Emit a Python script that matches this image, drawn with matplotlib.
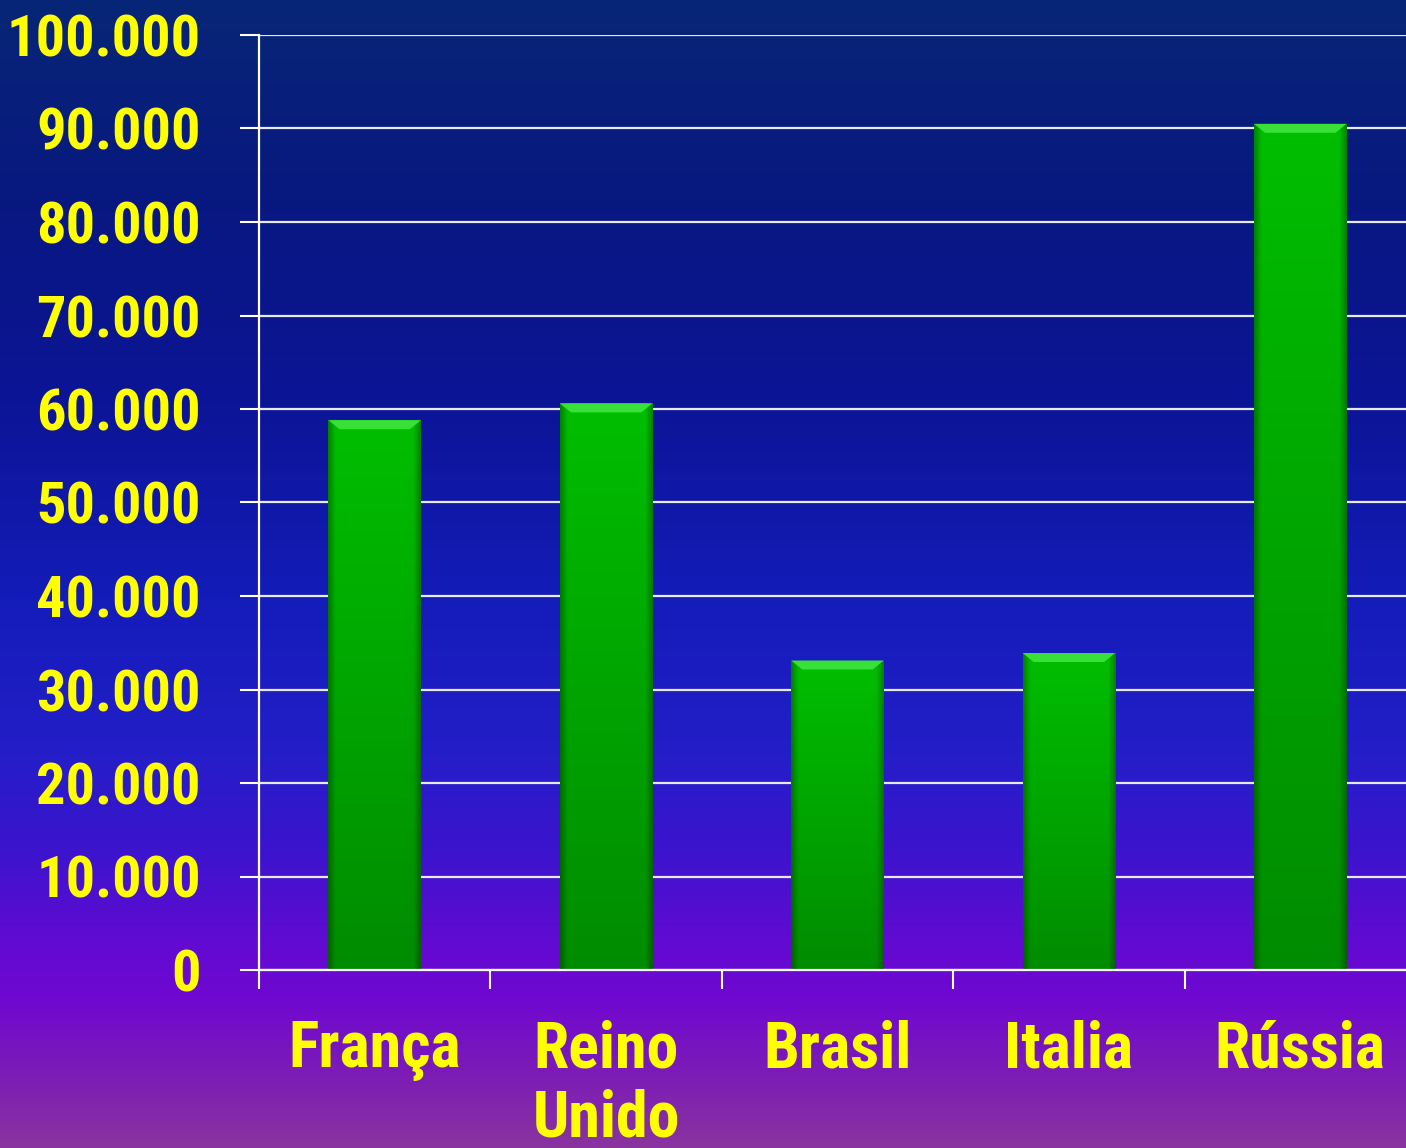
import numpy as np
import matplotlib
matplotlib.use('Agg')
import matplotlib.pyplot as plt
from matplotlib.patches import Polygon
from matplotlib import font_manager

paises = ['França', 'Reino\nUnido', 'Brasil', 'Italia', 'Rússia']
valores = [58800, 60600, 33100, 33900, 90500]
yticks = [0, 10000, 20000, 30000, 40000, 50000, 60000, 70000, 80000, 90000, 100000]
ylabels = ['0', '10.000', '20.000', '30.000', '40.000', '50.000',
           '60.000', '70.000', '80.000', '90.000', '100.000']

amarelo = '#ffff00'

# fonte estreita se houver, senao Liberation Sans
narrow = None
for nome in ['Liberation Sans Narrow', 'Roboto Condensed', 'Arial Narrow']:
    try:
        font_manager.findfont(font_manager.FontProperties(family=nome, weight='bold'),
                              fallback_to_default=False)
        narrow = nome
        break
    except Exception:
        pass
if narrow:
    fonte = [narrow, 'DejaVu Sans']
    ysize, xsize = 42, 46
else:
    fonte = ['Liberation Sans', 'DejaVu Sans']
    ysize, xsize = 38, 39

fig = plt.figure(figsize=(14.06, 11.48), dpi=100)

# fundo em degrade
bg = fig.add_axes([0, 0, 1, 1], zorder=-10)
stops_y = [0, 200, 400, 600, 750, 850, 950, 1000, 1080, 1148]
stops_c = np.array([(7, 38, 118), (8, 24, 128), (12, 20, 150), (20, 28, 185),
                    (35, 30, 200), (60, 20, 205), (100, 10, 210), (112, 8, 208),
                    (125, 30, 180), (138, 52, 158)]) / 255.0
yy = np.arange(1148)
grad = np.stack([np.interp(yy, stops_y, stops_c[:, k]) for k in range(3)], axis=1)
bg.imshow(grad[:, None, :], aspect='auto', extent=(0, 1, 0, 1), origin='upper')
bg.axis('off')

ax = fig.add_axes([259 / 1406, 1 - 970 / 1148, 1157 / 1406, 935 / 1148])
ax.set_facecolor('none')
x = np.arange(len(paises))
largura = 0.40
barras = ax.bar(x, valores, width=largura, color='#00aa00', zorder=3)

# textura verde das barras
ny, nx = 200, 60
v = np.linspace(1, 0, ny)[:, None]
h = np.linspace(-1, 1, nx)[None, :]
borda = 1 - 0.3 * np.clip((np.abs(h) - 0.85) / 0.15, 0, 1)
g = (140 + 50 * v) * borda
img = np.zeros((ny, nx, 3))
img[..., 1] = g / 255.0
px = 935 / 100000.0
for b, val in zip(barras, valores):
    x0 = b.get_x()
    w = b.get_width()
    im = ax.imshow(img, extent=(x0, x0 + w, 0, val), aspect='auto',
                   origin='upper', zorder=4)
    im.set_clip_path(b)
    bev = 9 / px
    ins = w * 0.12
    tri = Polygon([[x0, val], [x0 + w, val], [x0 + w - ins, val - bev],
                   [x0 + ins, val - bev]], closed=True,
                  facecolor='#38e038', edgecolor='none', zorder=5)
    ax.add_patch(tri)
ax.set_xlim(-0.5, 4.5)
ax.set_ylim(0, 100000)

ax.set_yticks(yticks)
ax.set_yticklabels(ylabels)
ax.yaxis.grid(True, color='#e8e8f0', linewidth=1.6, zorder=1)
ax.set_axisbelow(True)

ax.set_xticks(x)
ax.set_xticklabels(paises, linespacing=1.15)
ax.set_xticks(np.arange(-0.5, 5, 1), minor=True)
ax.tick_params(axis='x', which='major', length=0, pad=36)
ax.tick_params(axis='x', which='minor', length=14, width=1.5, color='white',
               direction='out')
ax.tick_params(axis='y', length=14, width=1.5, color='white', pad=28)

for lab in ax.get_xticklabels() + ax.get_yticklabels():
    lab.set_family(fonte)
    lab.set_fontweight('bold')
    lab.set_color(amarelo)
for lab in ax.get_xticklabels():
    lab.set_fontsize(xsize)
for lab in ax.get_yticklabels():
    lab.set_fontsize(ysize)

for s in ['top', 'right']:
    ax.spines[s].set_visible(False)
for s in ['left', 'bottom']:
    ax.spines[s].set_color('white')
    ax.spines[s].set_linewidth(1.6)
    ax.spines[s].set_zorder(6)

fig.savefig('out.png', dpi=100)
